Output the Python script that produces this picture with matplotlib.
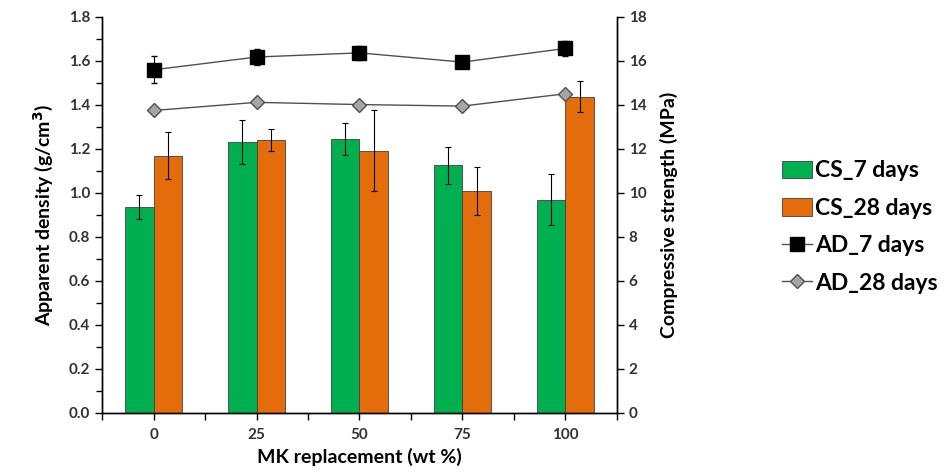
import numpy as np
import matplotlib.pyplot as plt
from matplotlib.ticker import MultipleLocator
from matplotlib.lines import Line2D

plt.rcParams['font.family'] = ['Lato', 'DejaVu Sans']

mk = ["0", "25", "50", "75", "100"]
cs_7 = [9.36, 12.32, 12.45, 11.26, 9.70]
cs_7_err = [0.55, 0.98, 0.72, 0.83, 1.15]
cs_28 = [11.70, 12.39, 11.92, 10.08, 14.38]
cs_28_err = [1.05, 0.50, 1.85, 1.10, 0.72]
ad_7 = [1.560, 1.618, 1.637, 1.595, 1.657]
ad_7_err = [0.062, 0.035, 0.032, 0.012, 0.036]
ad_28 = [1.375, 1.412, 1.402, 1.395, 1.451]
ad_28_err = [0.008, 0.008, 0.008, 0.008, 0.008]

green = '#00B050'
orange = '#E46C0A'

fig = plt.figure(figsize=(9.46, 4.72), dpi=100)
ax = fig.add_axes([0.108, 0.125, 0.544, 0.839])
ax2 = ax.twinx()

x = np.arange(len(mk))
w = 0.28
err_kw = dict(ecolor='black', elinewidth=0.8, capsize=2, capthick=0.8)
b1 = ax2.bar(x - w / 2, cs_7, w, yerr=cs_7_err, color=green, edgecolor='#404040',
             linewidth=0.6, error_kw=err_kw, label='CS_7 days')
b2 = ax2.bar(x + w / 2, cs_28, w, yerr=cs_28_err, color=orange, edgecolor='#404040',
             linewidth=0.6, error_kw=err_kw, label='CS_28 days')

ax.errorbar(x, ad_7, yerr=ad_7_err, color='#505050', lw=1, marker='s', ms=10,
            mfc='black', mec='black', ecolor='black', elinewidth=0.8, capsize=2)
ax.errorbar(x, ad_28, yerr=ad_28_err, color='#505050', lw=1, marker='D', ms=7,
            mfc='#A6A6A6', mec='#505050', mew=1, ecolor='#505050', elinewidth=0.8,
            capsize=0)
l1 = Line2D([], [], color='#505050', lw=1, marker='s', ms=10, mfc='black', mec='black')
l2 = Line2D([], [], color='#505050', lw=1, marker='D', ms=7, mfc='#A6A6A6', mec='#505050')

ax.set_zorder(ax2.get_zorder() + 1)
ax.patch.set_visible(False)

ax.set_xlim(-0.5, 4.5)
ax.set_ylim(0, 1.8)
ax2.set_ylim(0, 18)
ax.yaxis.set_minor_locator(MultipleLocator(0.1))
ax2.yaxis.set_major_locator(MultipleLocator(2))
ax.set_yticks(np.arange(0, 1.81, 0.2))
ax.set_yticklabels(['{:.1f}'.format(v) for v in np.arange(0, 1.81, 0.2)])
ax.set_xticks(x)
ax.set_xticklabels(mk)
ax.set_xticks(np.arange(-0.5, 4.6, 1), minor=True)

for a in (ax, ax2):
    a.spines['top'].set_visible(False)
    for s in a.spines.values():
        s.set_linewidth(1.0)
    a.tick_params(which='both', direction='out', width=1.0, labelsize=11)
    a.tick_params(which='major', length=5)
    a.tick_params(which='minor', length=4)
ax.tick_params(axis='x', which='both', length=5, pad=6)
for lab in ax.get_xticklabels() + ax.get_yticklabels() + ax2.get_yticklabels():
    lab.set_fontweight('bold')
    lab.set_color('#333333')

ax.set_xlabel('MK replacement (wt %)', fontsize=14, fontweight='bold', labelpad=4)
ax.set_ylabel('Apparent density (g/cm$^\\mathbf{3}$)', fontsize=14, fontweight='bold', labelpad=10)
ax2.set_ylabel('Compressive strength (MPa)', fontsize=14, fontweight='bold', labelpad=10)

fig.legend([b1, b2, l1, l2], ['CS_7 days', 'CS_28 days', 'AD_7 days', 'AD_28 days'],
           loc='center left', bbox_to_anchor=(0.805, 0.519), frameon=False,
           prop={'weight': 'bold', 'size': 16.5},
           handlelength=1.3, handleheight=0.8, handletextpad=0.15, labelspacing=0.72)

plt.savefig('out.png', dpi=100)
